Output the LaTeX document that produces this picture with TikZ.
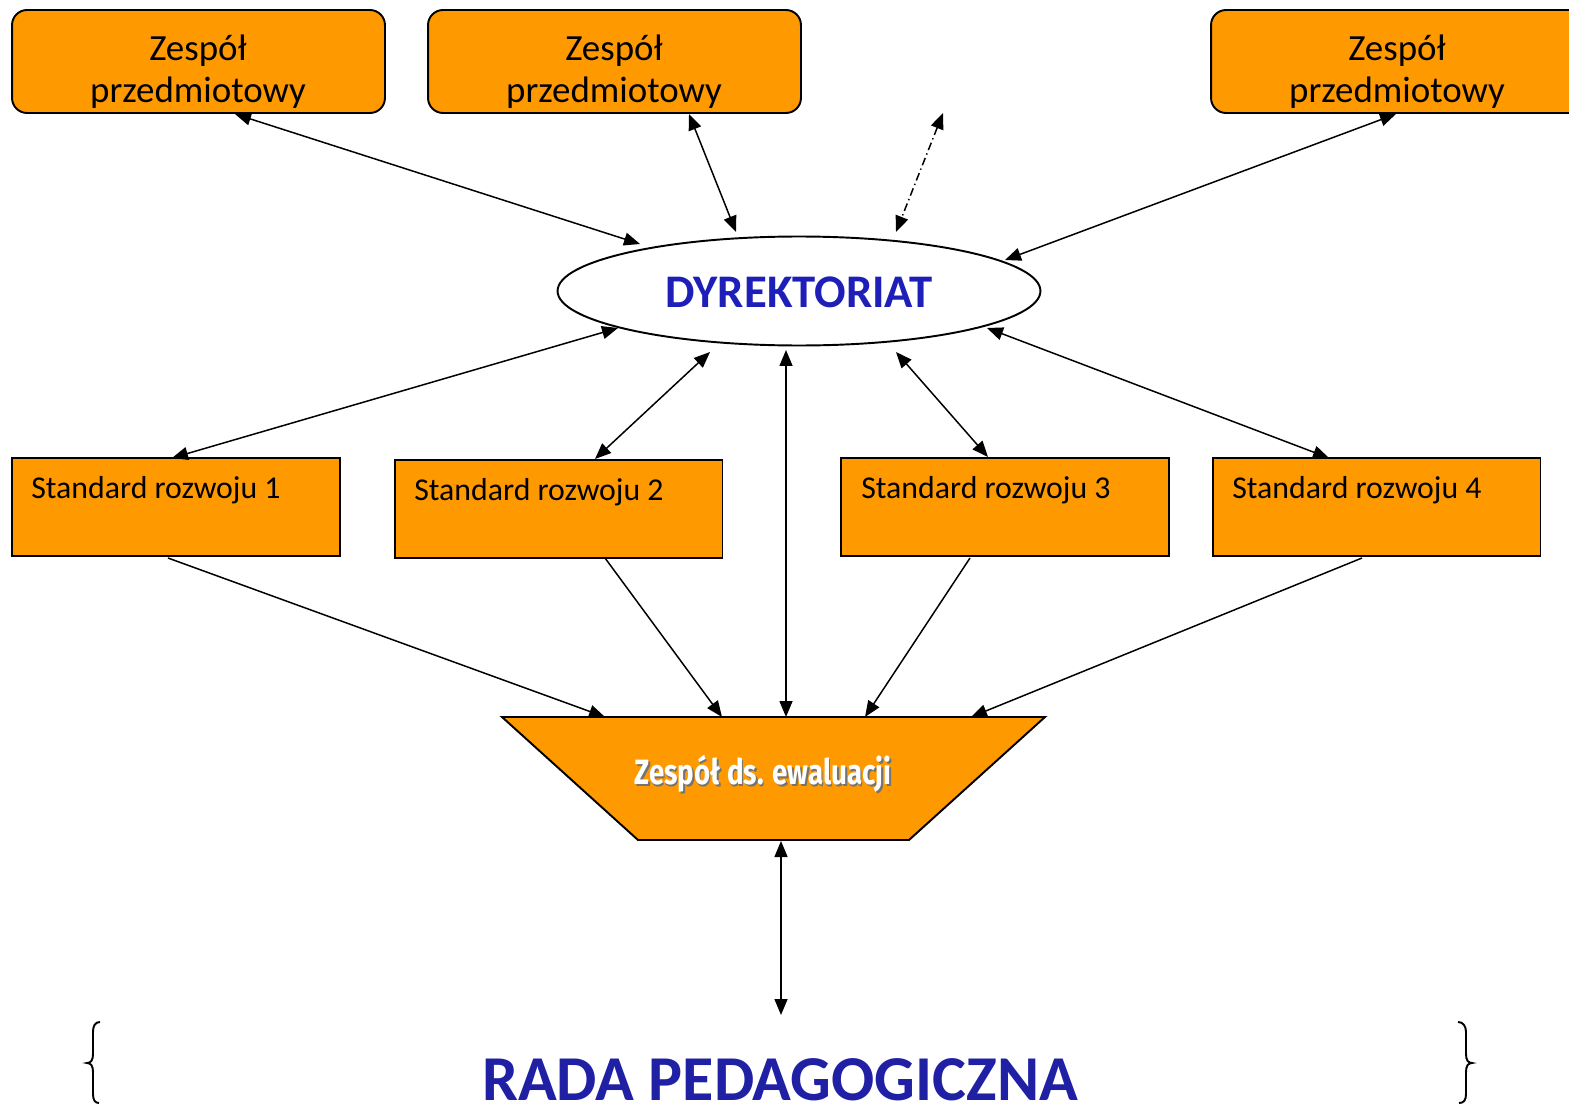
\documentclass[tikz,border=0pt]{standalone}
\usepackage{fontspec}
\setmainfont{Carlito}
\newfontfamily\fira{Fira Sans}
\usetikzlibrary{arrows.meta,shapes.geometric}
\definecolor{boxorange}{RGB}{255,153,0}
\definecolor{dyrblue}{RGB}{30,30,185}
\definecolor{radablue}{RGB}{32,32,165}
\tikzset{
  topbox/.style={draw=black, line width=1.1pt, fill=boxorange, rounded corners=0.3cm, minimum width=7.46cm, minimum height=2.06cm, inner sep=0pt},
  stdbox/.style={draw=black, line width=1.1pt, fill=boxorange, minimum width=6.56cm, minimum height=1.96cm, inner sep=0pt},
  toptext/.style={font=\fontsize{21}{24.4}\selectfont, align=center, anchor=base, inner sep=0pt},
  stdtext/.style={font=\fontsize{18.1}{21}\selectfont, anchor=base west, inner sep=0pt},
  conn/.style={line width=0.85pt, -{Triangle[length=0.32cm, width=0.26cm]}},
  dconn/.style={line width=0.85pt, {Triangle[length=0.32cm, width=0.26cm]}-{Triangle[length=0.32cm, width=0.26cm]}},
  brace/.style={line width=1.1pt}
}
\begin{document}
\begin{tikzpicture}[x=0.02cm, y=-0.02cm]
\useasboundingbox (0,0) rectangle (1569,1105);
% top boxes
\node[topbox] (t1) at (198.5,61.5) {};
\node[topbox] (t2) at (614.5,61.5) {};
\node[topbox] (t3) at (1397.5,61.5) {};
\node[toptext] (t1txt) at (198,103) {Zespół\\przedmiotowy};
\node[toptext] (t2txt) at (614,103) {Zespół\\przedmiotowy};
\node[toptext] (t3txt) at (1397,103) {Zespół\\przedmiotowy};
% ellipse
\node[draw=black, line width=1.1pt, ellipse, minimum width=9.66cm, minimum height=2.18cm, inner sep=0pt] (dyr) at (799,291) {};
\node[font=\fontsize{26.6}{30}\selectfont\bfseries, text=dyrblue, inner sep=0pt] (dyrtxt) at (799,292) {DYREKTORIAT};
% standard boxes
\node[stdbox] (s1) at (176,507) {};
\node[stdbox] (s2) at (558.5,509) {};
\node[stdbox] (s3) at (1005,507) {};
\node[stdbox] (s4) at (1376.5,507) {};
\node[stdtext] (s1txt) at (31,498) {Standard rozwoju 1};
\node[stdtext] (s2txt) at (414,500) {Standard rozwoju 2};
\node[stdtext] (s3txt) at (861,498) {Standard rozwoju 3};
\node[stdtext] (s4txt) at (1232,498) {Standard rozwoju 4};
% trapezoid
\coordinate (ztl) at (502,717);
\coordinate (ztr) at (1045,717);
\coordinate (zbr) at (909,840);
\coordinate (zbl) at (638,840);
\draw[line width=1.1pt, fill=boxorange, line join=miter] (ztl) -- (ztr) -- (zbr) -- (zbl) -- cycle;
\node[font=\fira\bfseries\fontsize{20}{24}\selectfont, text=black!55, inner sep=0pt] (zshadow) at (764.5,775.5) {\scalebox{0.79}[1]{Zespół ds. ewaluacji}};
\node[font=\fira\bfseries\fontsize{20}{24}\selectfont, text=white, inner sep=0pt] (ztxt) at (763,774) {\scalebox{0.79}[1]{Zespół ds. ewaluacji}};
% rada
\node[font=\fontsize{36.4}{40}\selectfont\bfseries, text=radablue, anchor=base, inner sep=0pt, text depth=0pt] (rada) at (780,1100) {RADA PEDAGOGICZNA};
\coordinate (radatop) at (781,1015);
% braces
\draw[brace] (100,1022) .. controls (95,1022) and (93,1026) .. (93,1032) -- (93,1054) .. controls (93,1060) and (91,1063) .. (87,1063) .. controls (91,1063) and (93,1066) .. (93,1072) -- (93,1094) .. controls (93,1100) and (95,1103) .. (99,1103);
\draw[brace] (1458,1022) .. controls (1463,1022) and (1466,1026) .. (1466,1032) -- (1466,1054) .. controls (1466,1060) and (1468,1063) .. (1472,1063) .. controls (1468,1063) and (1466,1066) .. (1466,1072) -- (1466,1094) .. controls (1466,1100) and (1464,1103) .. (1459,1103);
% connector endpoints
\coordinate (a1) at (235,114);  \coordinate (b1) at (640,244);
\coordinate (a2) at (689,114);  \coordinate (b2) at (736,232);
\coordinate (a3) at (943,113);  \coordinate (b3) at (896,232);
\coordinate (a4) at (1396,114); \coordinate (b4) at (1005,260);
\coordinate (c1) at (618,328);  \coordinate (d1) at (172,458);
\coordinate (c2) at (710,352);  \coordinate (d2) at (595,459);
\coordinate (c3) at (786,350);  \coordinate (d3) at (786,717);
\coordinate (c4) at (896,352);  \coordinate (d4) at (988,457);
\coordinate (c5) at (987,328);  \coordinate (d5) at (1329,458);
\coordinate (e1) at (168,558);  \coordinate (f1) at (605,717);
\coordinate (e2) at (605,558);  \coordinate (f2) at (722,717);
\coordinate (e3) at (970,558);  \coordinate (f3) at (865,717);
\coordinate (e4) at (1362,558); \coordinate (f4) at (971,717);
\coordinate (g1) at (781,841);
% connectors
\draw[dconn] (a1) -- (b1);
\draw[dconn] (a2) -- (b2);
\draw[dconn, dash pattern=on 4.5pt off 2pt on 0.8pt off 2pt] (a3) -- (b3);
\draw[dconn] (a4) -- (b4);
\draw[dconn] (c1) -- (d1);
\draw[dconn] (c2) -- (d2);
\draw[dconn] (c3) -- (d3);
\draw[dconn] (c4) -- (d4);
\draw[dconn] (c5) -- (d5);
\draw[conn] (e1) -- (f1);
\draw[conn] (e2) -- (f2);
\draw[conn] (e3) -- (f3);
\draw[conn] (e4) -- (f4);
\draw[dconn] (g1) -- (radatop);
\end{tikzpicture}
\end{document}
